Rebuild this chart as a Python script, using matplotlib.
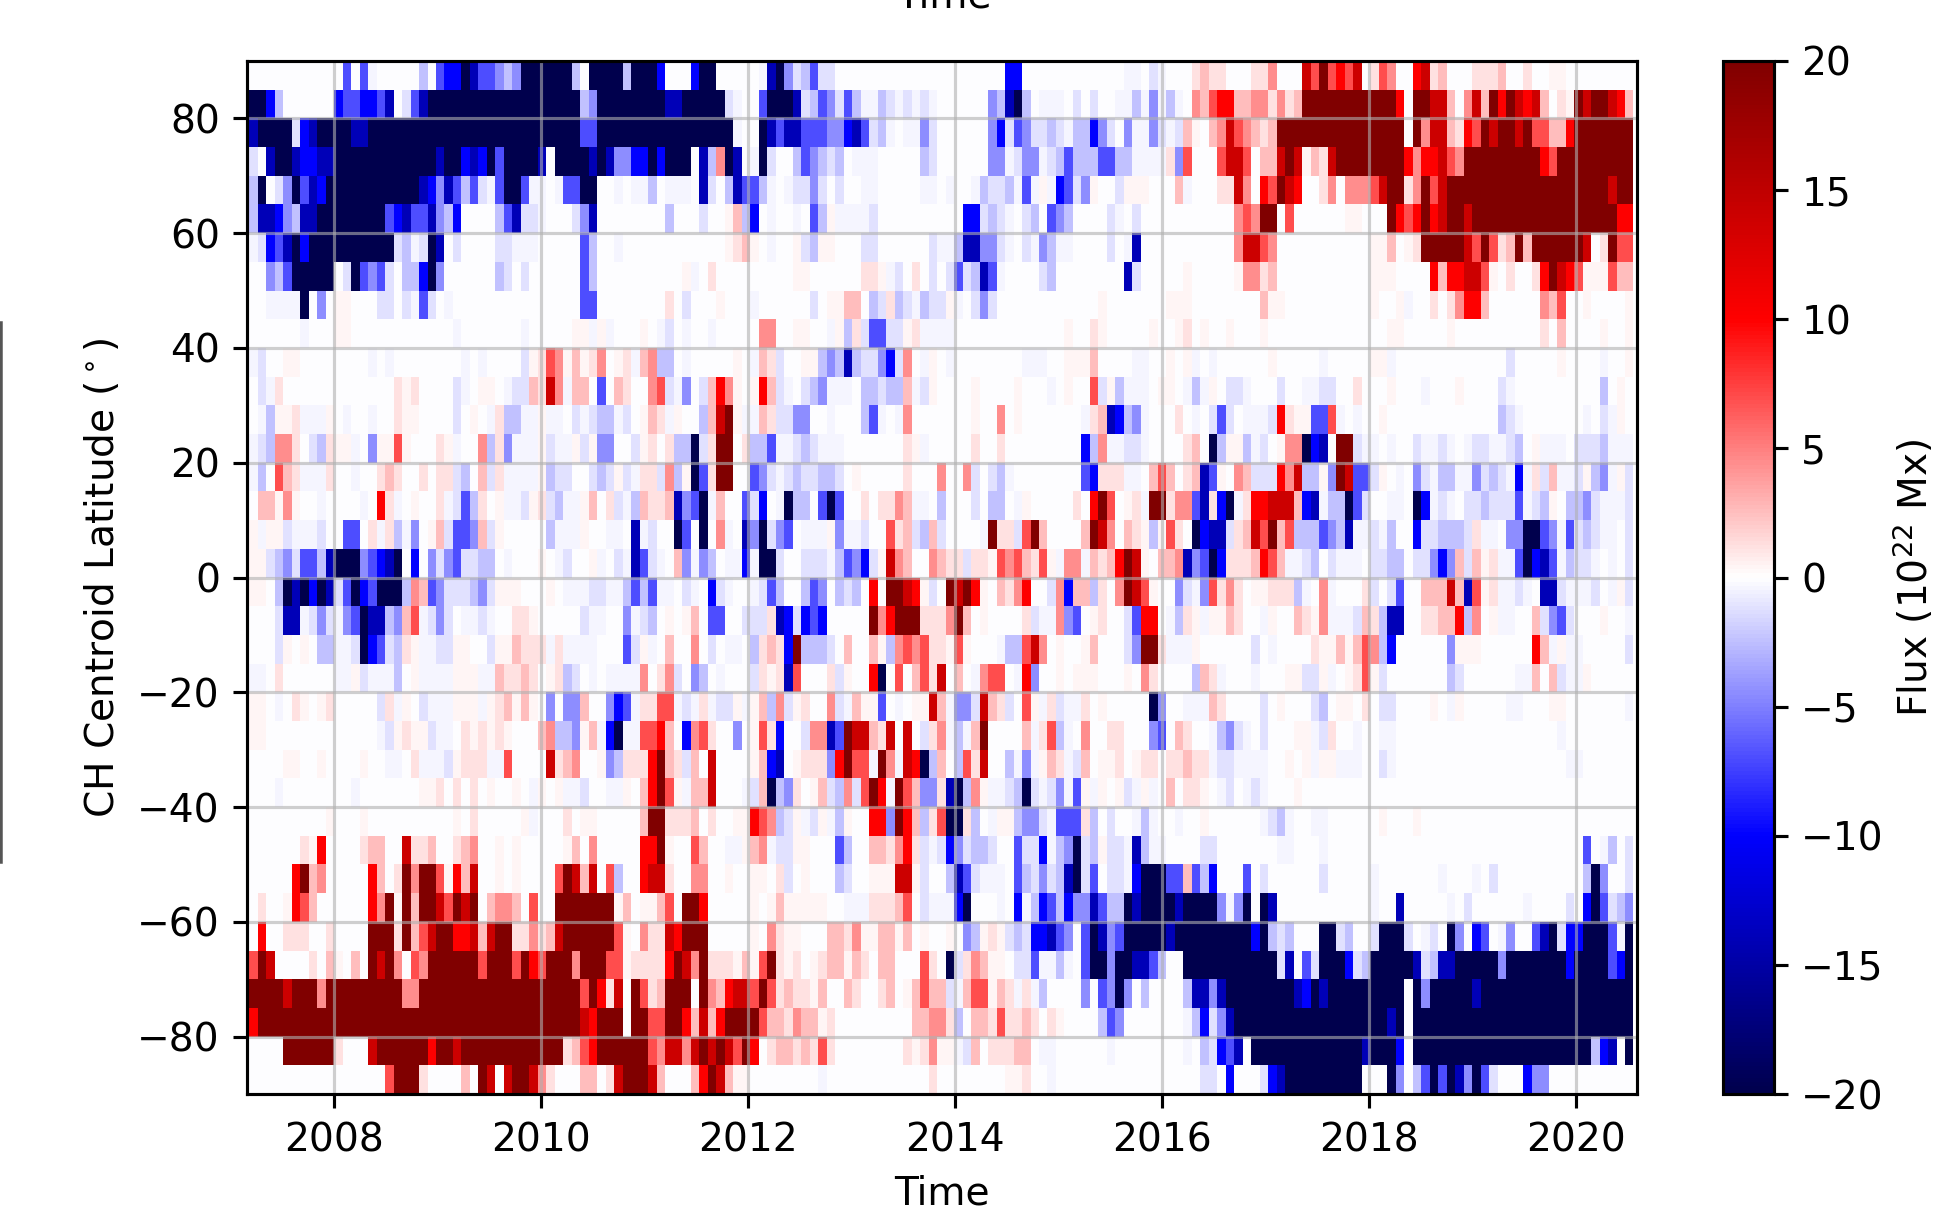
import numpy as np
from matplotlib import pyplot as plt
from matplotlib.lines import Line2D

# flux levels in 10^22 Mx, one letter per month bin, lower case = negative
levels = {'.': -0.02, 'a': -0.4, 'b': -1.2, 'c': -2.5, 'd': -4.5, 'e': -7, 'f': -10, 'g': -14, 'h': -20,
          'A': 0.4, 'B': 1.2, 'C': 2.5, 'D': 4.5, 'E': 7, 'F': 10, 'G': 14, 'H': 20}

# latitude bands from +90 down to -90, 5 degrees each
flux_rows = [
    ".......... .e.ea..... c.effhgeed cdhhhhhhc. hhhhchhhf. ..fhh..... aghdbcebb. .......... .........f f......... ...aa.ba.. .BCBB...BB D...GEHEFE G.BED..FGB C...BBBC.. B..AA..... ...",
    "hhfc...... feeffeg.be ghhhhhhhhh hhhhhhhhhc dhhhhhhhhg ghhhhhba.. ehhhgbcedb ecaacbabab a......dcg hc.aaa.b.b ..aacadaca .DCEFFCCDD BDBCHHHHHH HHHHHF.HHG GC.DGCHFHG FGC.BAHGHH GFC",
    "ghhhhbfghh hhgghhhhhh hhhhhhhhhh hhhhhhhhhe ehhhhhhhhh hhhhhhha.. hgeggeeedd fgebca.aad b......dfb edbbcbaccf db.daadbab CA.CDGEDCB CHHHHHHHHH HHHHHH.HDG GCBFEHGHHG HEECCFHHHH HHH",
    "b.ghhgffgg hhhhhhhhhh hhghhfgfhe hhhhg.hhhh ghgddffhfh hh.gcDhg.a hb..cedcbc .aaa.....c b......dda bddabceccc eeccaaaaBd E...EGGE.C CGHGACBGHH HHHHHHFDFF GEDHHHHHHH HHFEHHHHHH HHH",
    "ch.bdhegfh hhhhhhhhhh gfdgecebae hheaa.aeeh h..a.aac.a aa.gb.cgee ca.abbdb.b ..aa.....a a.a..acbbc aeaAafebdA ..bAAA...C a...BBGD.F EHGF..BD.D DDEGHHBDHE GHHHHHHHHH HHHHHHHHHH GHH",
    "cggfdcgghh hhhhhhefge egdcf....c egbba...bd g........c ...b..ACcf .a..a.ecAa aaab...... ....ffbcba .bc.edc... .ba.b..... ......DEDH H.E......A A...HFEFHF GHHGHHHHHH HHHHHHHHHH HFF",
    "abfeghfhhh hhhhhhhbca bhg.b....b baaa.....e c..a...... ......ABCA .a..AbcAA. ..bb...... baacggddba .badcaa... .b.ag..... ......DGGE D......... ..AAC.ABHH HHHGEHEBCH CHHHHHHG.B HEE",
    "..dcehhhhh .bhedeb.cc fhd......c b.b......e c......... .Aa.B..... ....AA.... ..BBAab.B. b.bebcgea. ...bc..... ...gb..... A.....ADDB C......... ..AAA....F CFFGGEA.B. .BFHGFEAAA ECC",
    "..aaaah.d. AA...bb.ba eb.a...... .........e e........B .b...A...a ......b.AA CC.cbBcbac bbAa.bdb.. .......... A.......AA A........C AA........ ..A..Aa..B .BDFFC.... ..DCE..A.. ..A",
    "......a... AA........ ....a..... ..a.....AA aAa...A.ab .a..a..... DD..AA..aA cBbeebbABa aaa....... ......A..B A.....A..A B.A..A...A .......... ....AA.... .A........ ..B.C....A ..A",
    "ab..AA.... ....a.a... .....a.a.. ..bABEDACA BD.ABaCDcc .a.....A.a CBb..AAcdc gcbbdfbD.a A.a....... .aaa..AAAC ....aa..A. Aa.a...... A.....a... ..AAa..... ........b. ....A....a ..A",
    ".baB...... .......BAB ....ba.AA. abbCBGDaCC .e.CB..DEb ad.bCFDA.A FCba.bcdaa a.ccbccCab A....A.... A...a.A..E bAcaaa.AA. acaA.bba.. .b..aabb.. B...A...a. ..A....ba. .........c .A.",
    ".acAABaaaA .a..a..BAA ....b.A.aB ccaaAaa.ba bccab.ACBa A..cCGHAaa CBbbdd..a. ..cea.aD.. .....A..D. A.......aB Cgfcda...B .a.beb.aaa bFBAAeeEa. a..A...... .......cba .......a.b aA.",
    "abcDDB.bcB AAa.dAAEA. ..BAa..DcB daaaAbaaAb Add..bAB.B cchbBHH.Bc ceaabcbaaa .......BAa .....B..B. ........fc Daabba.... BC.hcAAcab .ADDhfg.HH baa.a..baa ba.abbaabc .Aaaa.bbbc aaa",
    "ac.ECBaaaB ..a..BCB.. B.BBbc.CbB aaaaAcbb.. bcbAbaBBbD cAheBHH..e dbabcbbccb .A.....B.. .D..Db.bca ........ef BBBaa.CEC. BCgeA.DCbb bFDGccAdHG eebA.a.dba ccaadbcbaf aBbCaabAcd aAb",
    ".CCADA..a. ...a.FBa.A ..BabecB.A aabABbcaaA C.BbacCBBC gdehaC..eb f.ahcc.ehe ..B.BBDCaa .c...b.cc. aA.....B.F HE.ABaHHBD DegBfhaBFF GGGCfgacch eb..aa.hfa ba.bbcbbbe abcA.ccdba aab",
    "AaAAbaaab. .ee.BaBcad .ACbeedCbA .....caaaA ..aa.gab.. he.h.Da.gd hbde.aaaAd aab..EBCbc Cb....aHBB bEHC....CH GD.CBAcAEB .hfggbBCGE HCEcccedcg aabac..fbb cccbBaa.dd hhedaebcba a.b",
    "AAbcdbeecg hhhdefgh.f .dbdebbcc. a...A.ab.. Aa.bageba. Cdadc.aafa hhb..bbbac edfbAGDC.. DCBBbBBAED ECBEAaDDaC BCFHGA.CCD gdehfBBBCF ECaabc.baa a.bbcc.bbd fdCbCABaae hfgeacbba. a.b",
    "AA.chghfhg behfehhhcD CedbbbcdbA AA...A.aaa bbaaceceaa .ba.fba..a bec..ced.c bc.F.HHGFA b.HGHFA.CB DF..bDfCCc B.DHGEA..d badEBDB.AA BBBca.Da.. .Bb.be..CC CGCgEABaab a.ggbaaab. aAb",
    "...bggabdb adehggcdCE abdb.aaba. .BBA.....b aa..dabc.A .AC.ee..bb bBgfbfef.. ...HDFHHHB BBDHC.A... .BbaaDde.A B..beFF.ac BAaAACB..a A..CBADaaa bCBcgg..BB CCFcD.Aaa. .Cbdeb...A ..a",
    "...bA.A.cc aabhfebcBA aabbAA..bA ACBBBaBaaa a...ebAa.C ..D.b.aa.c BCBfHcccb. C..CAcDEDE BBAEA...ac cEGD.A..AC ...bdHHBaa aA......b. a....BAACA CEDcf..... .dAAA..... .FCaAaa... ..b",
    "aa.B...... aaAbaaac.A aaaaAAAaaC BBCB.ABcb. a.aaaaD.BD b.dc.a...b BABgE...Bb A..Fh.E.CE BG.C.aDEE. aFd..A.AAA ...A.DB... .cCBa...a. ..AAbbAa.A BEAb...... .cb......a aC.CbaaA.. ...",
    "AA.a.BA.AB .....bBaA. baaaAAAaAB CACA.d.ddC ..dfeaBBEE abaBabbAaA CcDbAB..Db aCAAe.a.AA GCaddbGCBb .EAaBbaaB. A.....hd.. aaaCB....b .A...bc.AA .B.bb....A .aA.....aa ...AA..... ..a",
    "AA........ .....abABA Abaa.BABAB A...CDccdA CafhaaEEFC .fDEB..d.A EBf..bDDge HGGCBG.G.b BDacaCH... .CaBEca.D. .BB...de.C B..acdba.b ...AAabB.. a..aa..... .......... ....a..... ...",
    "....AA..A. ...A..aa.B aaabABBBaa E....GBCD. .AdcBBBFHC BbC.G....A Cfg.ABBBdF HEEaHDaGFh cC.cEBG..c adaACBabC. AAB.ABB.BB CBBabbaaaa ..A.AaAAaa a..ba..... .......... .....aa... ...",
    "...a...... ..a....... AAB.B.B.A. .A.aA.Aaab ..aaA.CFHE AaCCG...ab ChcdB.ACbc DbEHFaHECd dBghcDAaab chbabdaeAa A.AbaAa.C. BBA.ab.aba ...A...... .......... .......... .......... ...",
    ".........A ...A...... ....A.B... ..Aa...B.A A.....CHHB BBC.B..AAF EDcbAabAac A..FFdHFCc BEhhBc.aAA cddbaeeeBc .b..aca..a ..A......a bca..aa... ...A...A.. .......... .......... ...",
    "......BAF. ...BCC..GB BC..BCD..A .A.....AC. D.....FFHA ..EC..aaAC DabbAA...e c..CCBDFBb abfdbccb.. ebbfacdhbc Abbagcaa.. ..bb...... .aa...a... .......... .......... .......e.a c.b",
    ".....FHCD. ....FC.BHD HHEAFCG..A .A....EHGC G.Ec..FGGB ..DD..A..A A.Bb.A...c b..AAAGGAb ..cgebaaa. ecbdbcghbe .bbafhhhee Cecf...e.b ......b... ..a....... a...a.b... .......chd ..b",
    ".B..AFEC.. ....FDHAHC HHGEHGH.CD DC.E..HHHH HHHAC.AACE .HHF.....A .ACAAAAA.. aaaBBBCE.b aaafh...a. facfecfddg ecchghhhhg hhhhdadh.h g......... ..a..g.... .a.b...... a....b.fhe bcd",
    ".F..BBB..B ....HHHBHC EGHHFFGCGH HBBDBCGHHH HHHEA.DBBG FHHH.....A .DBAA...CC BDAACCAC.A ..A.dcABAb cbffged.eh gdehhhhhgh hhhhhhhhfh cbc...hhbc ..bhhhb.ab .hd.fe.ad. .eghbffhhh eah",
    "EHG....B.C A.C.HGHD.E DHHHHHHEHH HEHFEHHHDH HHEEABBBBF HGDHBBBACA EHBAB.ABCC ACB.CC...E B.hbBDCAA. bbeaaca.eh hdhhggec.. hhhhhhhhhh hbg.ebhhhf bchhhhhgbc gghhhhhdhh hhhhhfhhhh efh",
    "HHHHGHHHDH HHHHHHHHDD HHHHHHHHHH HHHHHHHHHE HFBG.HEBCH HH.HDCFGGE HEBCBBAC.. CB..BC.ACE CCbaCEEACB aBac....d. edhd.c.... cggdghhhhh hhhgfhghhh hhhhhh.hdh hhhhghhhhh hhhhhhhhhh hhh",
    "FHHHHHHHHH HHHHHHHHHH HHHHHHHHHH HHHHHHHHHG FHHH.HHEEH HFCGCFHHHH ECCBDCCAB. ........CC DDBc.CCBEB BCB.BA.... ced....... acfbdghhhh hhhhhhhhhh hhhhgh.hhh hhhhhhhhhh hhhhhhhhhh hhh",
    "....HHHHHH B...GHHHHH HFHHGHHHHH HHHHHHHBCE FHHHHHHEDG GDGHGHGEHF .BCCBCBEB. .......BAB DAAabC.BBB CC.aa..... .a........ a.cbfeg.hh hhhhhhhhhh hghhhf.hhh hhhhhhhhhh hhhhhhhhcf g.h",
    ".......... ......EHHH B....C.HG. GHHGDB...C C.BGHHHGC. ..CFHGCAA. .......a.. .......... B........A AB..a..... .......... ..bb.f...b fghhhhhhhh h...hd.ceh ehgdheb... fdd....... ...",
]

n_months = 163
first_year = 2007.18
last_year = 2020.555
lat_edges = np.arange(90, -91, -5)
year_ticks = [2008, 2010, 2012, 2014, 2016, 2018, 2020]
lat_ticks = [80, 60, 40, 20, 0, -20, -40, -60, -80]
flux_ticks = [-20, -15, -10, -5, 0, 5, 10, 15, 20]

flux = np.array([[levels[c] for c in row.replace(' ', '').ljust(n_months, '.')[:n_months]] for row in flux_rows])
time_edges = np.linspace(first_year, last_year, n_months + 1)

W, H = 1934, 1210
dpi = 281.25
fig = plt.figure(figsize=(W / dpi, H / dpi), dpi=dpi)


def box(x0, x1, y0, y1):
    # pixel box, y measured from the top
    return [x0 / W, 1 - y1 / H, (x1 - x0) / W, (y1 - y0) / H]


ax = fig.add_axes(box(247.3, 1636.7, 61, 1094))
mesh = ax.pcolormesh(time_edges, lat_edges, flux, cmap='seismic', vmin=-20, vmax=20)
ax.set_xlim(2007.162, 2020.586)
ax.set_ylim(-90, 90)
ax.set_xticks(year_ticks)
ax.set_yticks(lat_ticks)
ax.grid(True, color='#b0b0b0', alpha=0.6)
ax.set_xlabel('Time')
ax.set_ylabel(r'CH Centroid Latitude ($^\circ$)')

cax = fig.add_axes(box(1722.5, 1774, 61, 1094))
cbar = fig.colorbar(mesh, cax=cax)
cbar.set_ticks(flux_ticks)
cbar.set_label(r'Flux ($10^{22}$ Mx)', labelpad=2)

# leftovers of the neighbouring panel, cropped by the figure edge
fig.text(944 / W, 1 - 7.5 / H, 'Time', ha='center', va='baseline')
fig.add_artist(Line2D([1 / W, 1 / W], [1 - 323 / H, 1 - 862 / H], color='#555555', lw=0.9))

plt.savefig('out.png', dpi=dpi)
